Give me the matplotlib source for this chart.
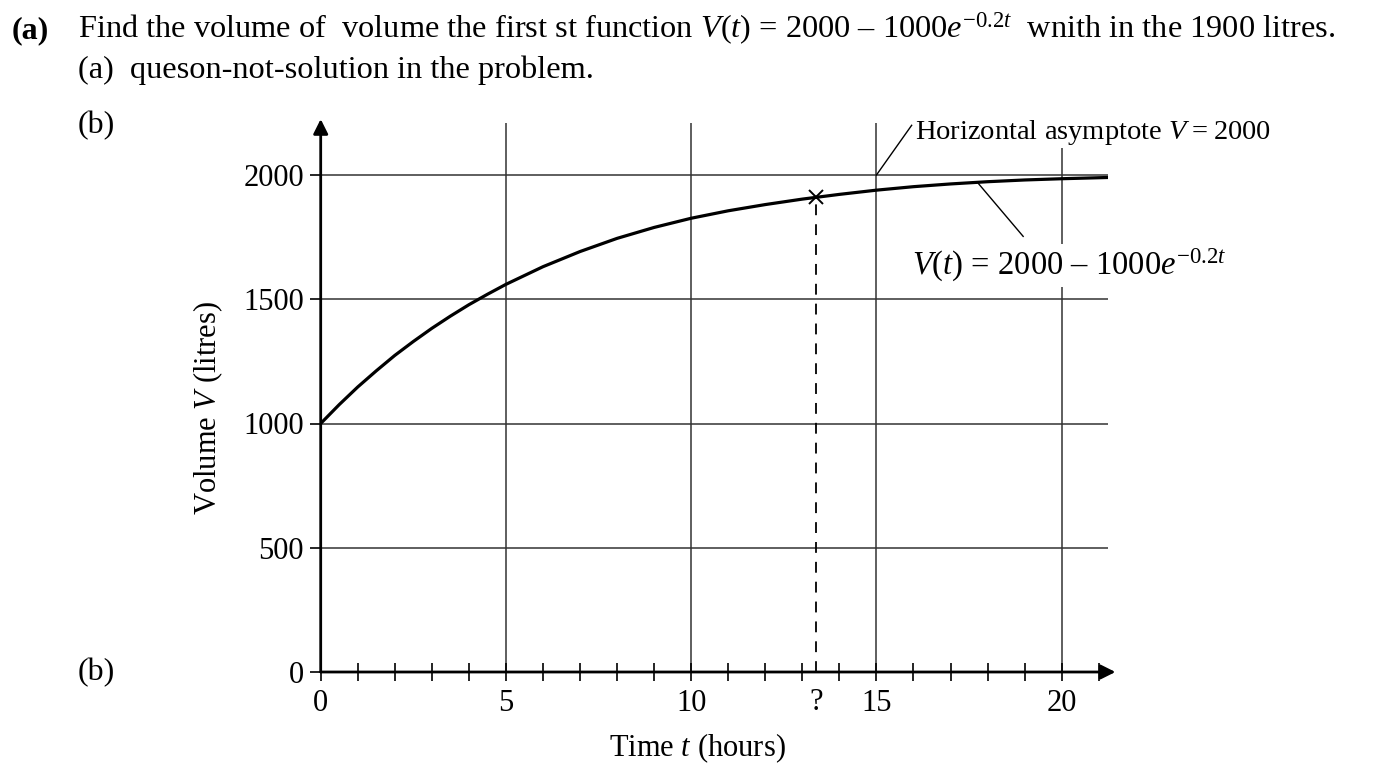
import matplotlib
matplotlib.use("Agg")
import matplotlib.pyplot as plt
from matplotlib.transforms import blended_transform_factory

plt.rcParams['font.family'] = ['Liberation Serif', 'DejaVu Serif']
plt.rcParams['mathtext.fontset'] = 'custom'
plt.rcParams['mathtext.rm'] = 'Liberation Serif'
plt.rcParams['mathtext.it'] = 'Liberation Serif:italic'
plt.rcParams['mathtext.bf'] = 'Liberation Serif:bold'

# curve values
t_vals = [0, 0.5, 1, 1.5, 2, 2.5, 3, 3.5, 4, 4.5, 5, 6, 7, 8, 9, 10, 11, 12, 13,
          14, 15, 16, 17, 18, 19, 20, 21.25]
v_vals = [1000, 1076, 1147, 1212, 1274, 1330, 1383, 1432, 1478, 1520, 1560, 1631,
          1692, 1745, 1789, 1826, 1856, 1881, 1903, 1922, 1939, 1953, 1964, 1973,
          1980, 1985, 1990]

x_major = [0, 5, 10, 15, 20]
x_minor = [1, 2, 3, 4, 6, 7, 8, 9, 11, 12, 13, 14, 16, 17, 18, 19, 21]
y_ticks = [0, 500, 1000, 1500, 2000]
grid_v = [500, 1000, 1500, 2000]
grid_t = [5, 10, 15, 20]

t_mark = 13.38
v_mark = 1910

W, H = 1376, 768
fig = plt.figure(figsize=(W / 100, H / 100), dpi=100)
ax = fig.add_axes([320.7 / W, 1 - 672 / H, 21.25 * 37.05 / W, 2200 * 0.2485 / H])
ax.set_xlim(0, 21.25)
ax.set_ylim(0, 2200)
for s in ax.spines.values():
    s.set_visible(False)

gc = '#333333'
ax.hlines(grid_v, 0, 21.25, colors=gc, lw=1.1, zorder=1)
ax.vlines(grid_t, 0, 2210, colors=gc, lw=1.1, zorder=1, clip_on=False)

# axes with arrows
ax.annotate('', xy=(21.45, 0), xytext=(0, 0), annotation_clip=False,
            arrowprops=dict(arrowstyle='-|>', lw=2, color='black', mutation_scale=22,
                            shrinkA=0, shrinkB=0))
ax.annotate('', xy=(0, 2225), xytext=(0, 0), annotation_clip=False,
            arrowprops=dict(arrowstyle='-|>', lw=2, color='black', mutation_scale=22,
                            shrinkA=0, shrinkB=0))

ax.plot(t_vals, v_vals, color='black', lw=2.3, zorder=4, solid_capstyle='round',
        solid_joinstyle='round')
ax.plot([t_mark, t_mark], [0, v_mark], color='black', lw=1.3, ls=(0, (6, 5)), zorder=3)
ax.plot([t_mark], [v_mark], marker='x', color='black', ms=10, mew=1.4, zorder=5)

ax.set_xticks(x_major)
ax.set_xticks(x_minor, minor=True)
ax.set_xticklabels([str(v) for v in x_major])
ax.set_yticks(y_ticks)
ax.set_yticklabels([str(v) for v in y_ticks])
ax.tick_params(axis='x', which='both', direction='inout', length=13, width=1.2,
               labelsize=22, pad=6)
ax.tick_params(axis='y', direction='out', length=8, width=1.2, labelsize=22, pad=4)
ax.text(t_mark, -0.029, '?', transform=blended_transform_factory(ax.transData, ax.transAxes),
        ha='center', va='top', fontsize=22)

ax.text(0.478, -0.108, 'Time $t$ (hours)', transform=ax.transAxes, ha='center',
        va='top', fontsize=22)
ax.text(-0.143, 0.483, 'Volume $V$ (litres)', transform=ax.transAxes, ha='center',
        va='center', rotation=90, fontsize=22)

# labels with leader lines
ax.plot([15, 15.95], [2000, 2200], color='black', lw=1, clip_on=False, zorder=3)
ax.text(16.05, 2173, 'Horizontal asymptote $V$\u2009=\u20092000', ha='left', va='center',
        fontsize=20.5, zorder=6, clip_on=False,
        bbox=dict(facecolor='white', edgecolor='none', pad=1))
ax.plot([17.75, 18.96], [1966, 1753], color='black', lw=1, zorder=3)
ax.text(15.95, 1598, '$V(t)$ = 2000 \u2013 1000$e^{-0.2t}$', ha='left', va='baseline',
        fontsize=23.5, zorder=6, bbox=dict(facecolor='white', edgecolor='none', pad=2))

# question text
fig.text(12 / W, 1 - 38 / H, '(a)', fontsize=23, fontweight='bold', va='baseline')
fig.text(78 / W, 1 - 38 / H,
         'Find the volume of  volume the first st function '
         '$V(t)$ = 2000 \u2013 1000$e^{-0.2t}$  wnith in the 1900 litres.',
         fontsize=23.3, va='baseline')
fig.text(78 / W, 1 - 78 / H, '(a)  queson-not-solution in the problem.',
         fontsize=23.3, va='baseline')
fig.text(78 / W, 1 - 133 / H, '(b)', fontsize=23, va='baseline')
fig.text(78 / W, 1 - 680 / H, '(b)', fontsize=23, va='baseline')

fig.savefig('out.png', dpi=100)
